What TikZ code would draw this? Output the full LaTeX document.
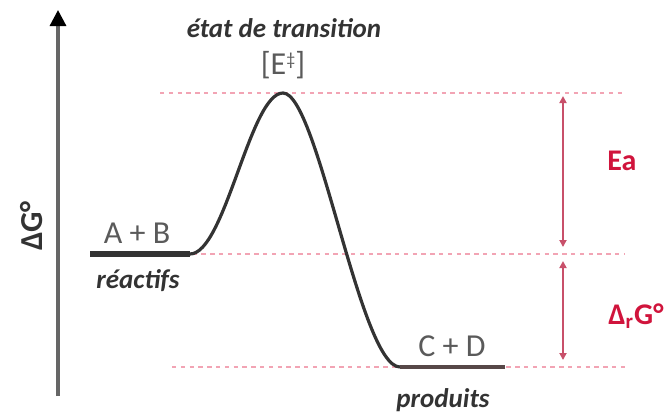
\documentclass[tikz,border=0pt]{standalone}
\usepackage{fontspec}
\setmainfont{Carlito}
\usetikzlibrary{arrows.meta}
\definecolor{pinkdash}{HTML}{F2A4B4}
\definecolor{redarrow}{HTML}{C8506A}
\definecolor{redtext}{HTML}{D0143C}
\definecolor{greytext}{HTML}{5A5A5A}
\definecolor{darktext}{HTML}{333333}
\definecolor{prodline}{HTML}{574848}
\tikzset{
  level/.style={pinkdash, line width=1.2pt, dash pattern=on 2.2pt off 2.2pt},
  energy/.style={redarrow, line width=1.1pt, {Triangle[length=3.5pt,width=3.5pt]}-{Triangle[length=3.5pt,width=3.5pt]}},
  species/.style={font=\fontsize{16}{18}\selectfont, text=greytext, inner sep=0pt},
  caption/.style={font=\fontsize{13.5}{16}\selectfont\bfseries\itshape, text=darktext, inner sep=0pt},
  redlabel/.style={font=\fontsize{15}{18}\selectfont\bfseries, text=redtext, inner sep=0pt},
}
\begin{document}
\begin{tikzpicture}[x=0.5pt,y=-0.5pt]
\useasboundingbox (0,0) rectangle (666,414);
% axis
\coordinate (axb) at (58,396);
\coordinate (axt) at (58,10);
\draw[line width=1.6pt, color=black!60, -{Triangle[length=8pt,width=8pt,color=black]}] (axb) -- (axt);
\node[rotate=90, font=\fontsize{16}{18}\selectfont\bfseries, text=darktext, inner sep=0pt] (dg) at (32,226) {ΔG°};
% dashed levels
\coordinate (t1) at (160,93);  \coordinate (t2) at (622,93);
\coordinate (m1) at (175,254); \coordinate (m2) at (625,254);
\coordinate (b1) at (172,367); \coordinate (b2) at (625,367);
\draw[level] (t1) -- (t2);
\draw[level] (m1) -- (m2);
\draw[level] (b1) -- (b2);
% profile
\coordinate (r0) at (90,254);
\coordinate (r1) at (190,254);
\coordinate (pk) at (283,93);
\coordinate (p0) at (400,367);
\coordinate (p1) at (505,367);
\draw[line width=2.6pt, color=darktext] (r0) -- (r1);
\draw[line width=1.6pt, color=darktext] (r1) .. controls (225,254) and (250,93) .. (pk)
  .. controls (318,93) and (360,367) .. (p0);
\draw[line width=2.2pt, color=prodline] (p0) -- (p1);
% labels
\node[species] (ab) at (137,233) {A + B};
\node[caption] (rea) at (138,281) {réactifs};
\node[species] (cd) at (452,346) {C + D};
\node[caption] (pro) at (443,400) {produits};
\node[caption] (ts) at (284,28) {état de transition};
\node[species, anchor=base] (ets) at (283,74) {[E\raisebox{0.55ex}{\fontsize{9}{10}\selectfont ‡}]};
% energy arrows
\coordinate (ea1) at (563,96);  \coordinate (ea2) at (563,247);
\coordinate (dg1) at (563,261); \coordinate (dg2) at (563,360);
\draw[energy] (ea1) -- (ea2);
\draw[energy] (dg1) -- (dg2);
\node[redlabel] (ea) at (622,161) {Ea};
\node[redlabel] (drg) at (636,316) {Δ\textsubscript{r}G°};
\end{tikzpicture}
\end{document}
